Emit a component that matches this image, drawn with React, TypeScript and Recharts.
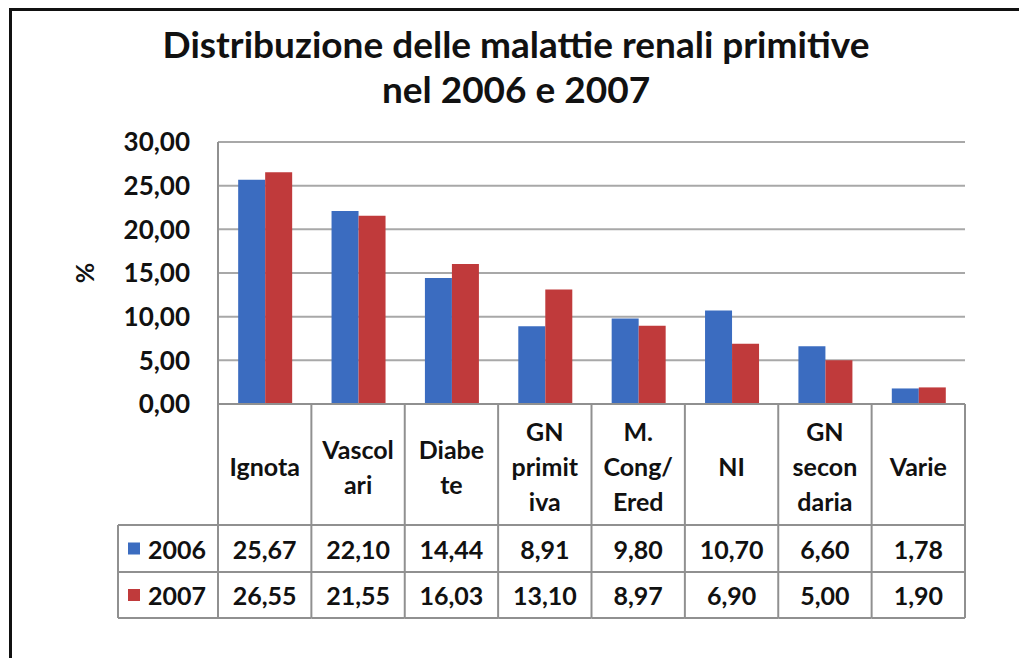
import React from 'react';
import { BarChart, Bar, XAxis, YAxis, CartesianGrid } from 'recharts';

const categories = ['Ignota', 'Vascolari', 'Diabete', 'GN primitiva', 'M. Cong/Ered', 'NI', 'GN secondaria', 'Varie'];
// how the labels wrap inside the table cells
const categoryLines = [['Ignota'], ['Vascol', 'ari'], ['Diabe', 'te'], ['GN', 'primit', 'iva'], ['M.', 'Cong/', 'Ered'], ['NI'], ['GN', 'secon', 'daria'], ['Varie']];
const values2006 = [25.67, 22.1, 14.44, 8.91, 9.8, 10.7, 6.6, 1.78];
const values2007 = [26.55, 21.55, 16.03, 13.1, 8.97, 6.9, 5.0, 1.9];
const yTicks = [0, 5, 10, 15, 20, 25, 30];

const BLUE = '#3b6cc0';
const RED = '#c03a3b';
const FONT = 'Lato, "Open Sans", sans-serif';
const TABLE_LINE = '#909090';

const fmt = (v: number) => v.toFixed(2).replace('.', ',');

const data = categories.map((name, i) => ({
  name,
  y2006: values2006[i],
  y2007: values2007[i],
}));

// category axis tick: draws one column of the data table under the plot
const TableTick = (props: any) => {
  const { x, y, payload, width, visibleTicksCount } = props;
  const i = payload.index;
  const colW = width / visibleTicksCount;
  const left = x - colW / 2;
  const right = x + colW / 2;
  const headBottom = y + 121;
  const row1Bottom = y + 168;
  const row2Bottom = y + 214;
  const lines = categoryLines[i];
  const lineH = 35;
  const firstY = y + 62 - ((lines.length - 1) * lineH) / 2;
  const txt = { fontFamily: FONT, fontWeight: 700, fontSize: 25, fill: '#111' };
  const r1 = (headBottom + row1Bottom) / 2;
  const r2 = (row1Bottom + row2Bottom) / 2;

  return (
    <g>
      <line x1={right} y1={y} x2={right} y2={row2Bottom} stroke={TABLE_LINE} strokeWidth={2} />
      {i === 0 && <line x1={left} y1={y - 262} x2={left} y2={row2Bottom} stroke={TABLE_LINE} strokeWidth={2} />}
      <line x1={i === 0 ? left - 100 : left} y1={headBottom} x2={right} y2={headBottom} stroke={TABLE_LINE} strokeWidth={2} />
      <line x1={i === 0 ? left - 100 : left} y1={row1Bottom} x2={right} y2={row1Bottom} stroke={TABLE_LINE} strokeWidth={2} />
      <line x1={i === 0 ? left - 100 : left} y1={row2Bottom} x2={right} y2={row2Bottom} stroke={TABLE_LINE} strokeWidth={2} />
      {lines.map((t, k) => (
        <text key={k} x={x} y={firstY + k * lineH} textAnchor="middle" dominantBaseline="central" {...txt}>
          {t}
        </text>
      ))}
      <text x={x} y={r1} textAnchor="middle" dominantBaseline="central" {...txt}>
        {fmt(values2006[i])}
      </text>
      <text x={x} y={r2} textAnchor="middle" dominantBaseline="central" {...txt}>
        {fmt(values2007[i])}
      </text>
      {i === 0 && (
        <g>
          <line x1={left - 100} y1={headBottom} x2={left - 100} y2={row2Bottom} stroke={TABLE_LINE} strokeWidth={2} />
          <rect x={left - 90} y={r1 - 6} width={12} height={12} fill={BLUE} />
          <text x={left - 70} y={r1} textAnchor="start" dominantBaseline="central" {...txt}>
            2006
          </text>
          <rect x={left - 90} y={r2 - 6} width={12} height={12} fill={RED} />
          <text x={left - 70} y={r2} textAnchor="start" dominantBaseline="central" {...txt}>
            2007
          </text>
        </g>
      )}
    </g>
  );
};

const PercentLabel = (props: any) => {
  const { viewBox } = props;
  const cx = viewBox.x + 24;
  const cy = viewBox.y + viewBox.height / 2;
  return (
    <text x={cx} y={cy} transform={`rotate(-90 ${cx} ${cy})`} textAnchor="middle" dominantBaseline="central"
      fontFamily={FONT} fontWeight={700} fontSize={25} fill="#111">
      %
    </text>
  );
};

export default function App() {
  return (
    <div style={{ position: 'absolute', left: 0, top: 0, width: 1019, height: 658, overflow: 'hidden', background: '#fff' }}>
      <div style={{ position: 'absolute', left: 9, top: 8, width: 1100, height: 700, borderTop: '3px solid #111', borderLeft: '3px solid #111' }} />
      <div style={{ position: 'absolute', left: 0, top: 21, width: 1032, textAlign: 'center', fontFamily: FONT, fontWeight: 700, fontSize: 37, lineHeight: '45px', color: '#111' }}>
        Distribuzione delle malattie renali primitive
        <br />
        nel 2006 e 2007
      </div>
      <div style={{ position: 'absolute', left: 0, top: 0 }}>
        <BarChart width={1019} height={658} data={data} margin={{ top: 142, right: 54, bottom: 40, left: 60 }}
          barCategoryGap="21.6%" barGap={0}>
          <CartesianGrid vertical={false} stroke="#a8a8a8" strokeWidth={2} />
          <XAxis dataKey="name" height={214} tickSize={0} tickMargin={0} interval={0}
            axisLine={{ stroke: TABLE_LINE, strokeWidth: 2 }} tick={<TableTick />} />
          <YAxis width={158} domain={[0, 30]} ticks={yTicks} tickFormatter={fmt} tickSize={0} tickMargin={28}
            axisLine={false} tick={{ fontFamily: FONT, fontWeight: 700, fontSize: 26, fill: '#111' }}
            label={<PercentLabel />} />
          <Bar dataKey="y2006" fill={BLUE} isAnimationActive={false} />
          <Bar dataKey="y2007" fill={RED} isAnimationActive={false} />
        </BarChart>
      </div>
    </div>
  );
}
